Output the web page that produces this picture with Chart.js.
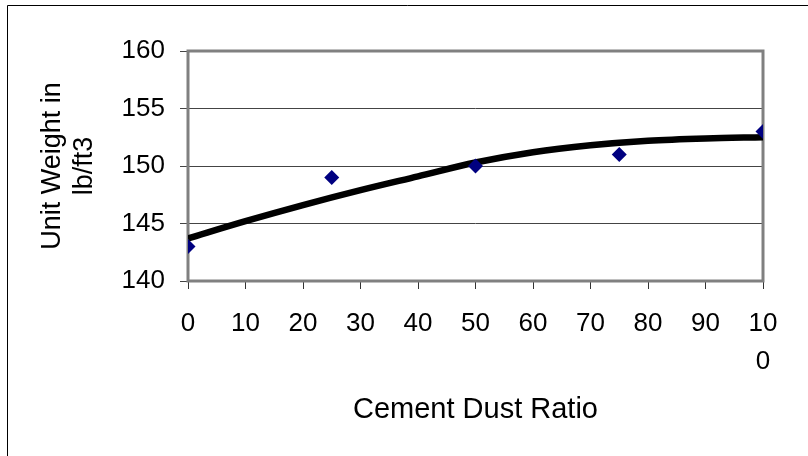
<!DOCTYPE html>
<html>
<head>
<meta charset="utf-8">
<script src="https://cdn.jsdelivr.net/npm/chart.js@4/dist/chart.umd.min.js"></script>
<style>
  html, body { margin: 0; padding: 0; background: #fff; }
  #myC { display: block; }
</style>
</head>
<body>
<canvas id="myC" width="808" height="456"></canvas>
<script>
// measured points
const ratios = [0, 25, 50, 75, 100];
const unitWeights = [143, 149, 150, 151, 153];

// trend line
const trendRatios = [0, 10, 20, 30, 40, 50, 60, 70, 80, 90, 100];
const trendWeights = [143.7, 145.2, 146.6, 147.9, 149.1, 150.3, 151.2, 151.8, 152.2, 152.4, 152.5];

const yMin = 140, yMax = 160, yStep = 5;
const xMin = 0, xMax = 100, xStep = 10;

const font = 'Arial, "Liberation Sans", sans-serif';

// gray plot frame + outer chart border
const framePlugin = {
  id: 'frame',
  beforeDraw(chart) {
    const c = chart.ctx;
    c.save();
    c.fillStyle = '#fff';
    c.fillRect(0, 0, chart.width, chart.height);
    c.strokeStyle = '#000';
    c.lineWidth = 1;
    c.beginPath();
    c.moveTo(7.5, chart.height);
    c.lineTo(7.5, 5.5);
    c.lineTo(chart.width, 5.5);
    c.stroke();
    c.restore();
  },
  beforeDatasetsDraw(chart) {
    const { left, top, right, bottom } = chart.chartArea;
    const c = chart.ctx;
    c.save();
    c.strokeStyle = '#808080';
    c.lineWidth = 3;
    c.strokeRect(left, top, right - left, bottom - top);
    c.restore();
  }
};

const ctx = document.querySelector('#myC').getContext('2d');

const chart = new Chart(ctx, {
  type: 'scatter',
  data: {
    datasets: [{
      label: 'Unit Weight',
      data: ratios.map((x, i) => ({ x, y: unitWeights[i] })),
      pointStyle: 'rectRot',
      pointRadius: 7.5,
      pointHoverRadius: 7.5,
      backgroundColor: '#000080',
      borderColor: '#000080',
      borderWidth: 0,
      order: 0
    }, {
      label: 'Trend',
      data: trendRatios.map((x, i) => ({ x, y: trendWeights[i] })),
      showLine: true,
      borderColor: '#000',
      borderWidth: 6.5,
      pointRadius: 0,
      cubicInterpolationMode: 'monotone',
      order: 1
    }]
  },
  options: {
    responsive: false,
    devicePixelRatio: 1,
    animation: false,
    layout: {
      padding: { left: 0, top: 51, right: 45, bottom: 0 }
    },
    scales: {
      x: {
        type: 'linear',
        min: xMin,
        max: xMax,
        afterFit: s => { s.height = 456 - 281; },
        border: { display: false },
        grid: {
          drawOnChartArea: false,
          drawTicks: true,
          tickLength: 8,
          color: '#333'
        },
        ticks: {
          stepSize: xStep,
          autoSkip: false,
          maxRotation: 0,
          padding: 16,
          color: '#000',
          font: { family: font, size: 26, lineHeight: '38px' },
          callback: v => v === 100 ? ['10', '0'] : String(v)
        },
        title: {
          display: true,
          text: 'Cement Dust Ratio',
          color: '#000',
          font: { family: font, size: 29, lineHeight: 1.2 },
          padding: { top: 0, bottom: 28.6 }
        }
      },
      y: {
        min: yMin,
        max: yMax,
        afterFit: s => { s.width = 188; },
        border: { display: false },
        grid: {
          drawTicks: true,
          tickLength: 8,
          color: '#444'
        },
        ticks: {
          stepSize: yStep,
          padding: 15,
          color: '#000',
          font: { family: font, size: 26 }
        },
        title: {
          display: true,
          text: ['Unit Weight in', 'lb/ft3'],
          color: '#000',
          font: { family: font, size: 27, lineHeight: '32px' },
          padding: { top: 36.5, bottom: 0 }
        }
      }
    },
    plugins: {
      legend: { display: false },
      tooltip: { enabled: false }
    }
  },
  plugins: [framePlugin]
});
</script>
</body>
</html>
